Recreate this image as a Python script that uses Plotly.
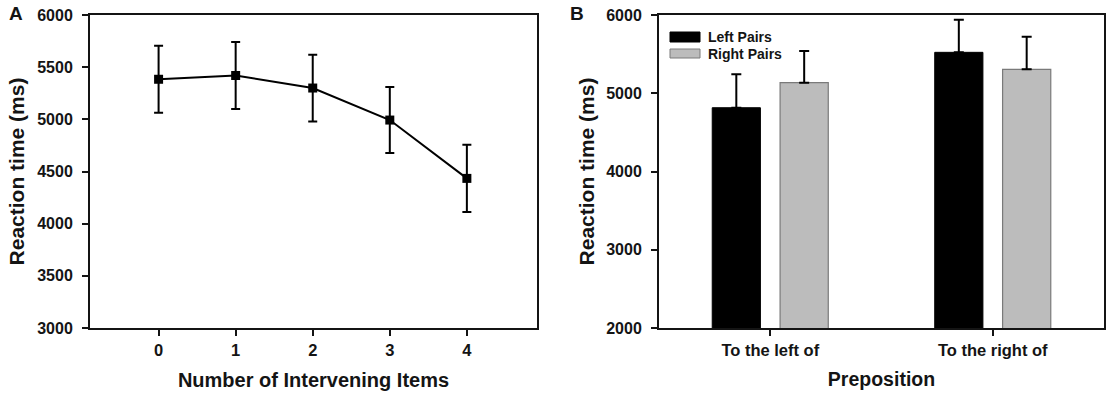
import plotly.graph_objects as go

# Panel A data
n_items = [0, 1, 2, 3, 4]
rt_a = [5384, 5420, 5300, 4993, 4434]
err_a = [322, 322, 320, 316, 322]
yticks_a = [3000, 3500, 4000, 4500, 5000, 5500, 6000]

# Panel B data
prepositions = ["To the left of", "To the right of"]
left_pairs = [4815, 5523]
left_err = [427, 417]
right_pairs = [5135, 5306]
right_err = [405, 417]
yticks_b = [2000, 3000, 4000, 5000, 6000]

W, H = 1106, 396
FONT = "Liberation Sans"
INK = "#141414"

def px_x(v):
    return v / W

def px_y(v):
    return (H - v) / H

fig = go.Figure()

fig.add_trace(go.Scatter(
    x=n_items, y=rt_a, mode="lines+markers",
    line=dict(color="black", width=2),
    marker=dict(symbol="square", size=9, color="black"),
    error_y=dict(type="data", array=err_a, color="black", thickness=2, width=4.5),
    xaxis="x", yaxis="y", showlegend=False,
))

fig.add_trace(go.Bar(
    x=prepositions, y=left_pairs, name="Left Pairs",
    marker=dict(color="black", line=dict(color="black", width=1)),
    error_y=dict(type="data", symmetric=False, array=left_err, arrayminus=[0, 0],
                 color="black", thickness=2, width=5),
    xaxis="x2", yaxis="y2", showlegend=False,
))
fig.add_trace(go.Bar(
    x=prepositions, y=right_pairs, name="Right Pairs",
    marker=dict(color="#bcbcbc", line=dict(color="#7a7a7a", width=1.2)),
    error_y=dict(type="data", symmetric=False, array=right_err, arrayminus=[0, 0],
                 color="black", thickness=2, width=5),
    xaxis="x2", yaxis="y2", showlegend=False,
))

ydom = [px_y(328), px_y(15)]
axis_common = dict(
    showline=True, linecolor=INK, linewidth=2, mirror=True,
    ticks="outside", ticklen=6, tickwidth=2, tickcolor=INK,
    showgrid=False, zeroline=False, automargin=False,
)
ytick_font = dict(family=FONT, size=16, color=INK)
xtick_font = dict(family=FONT, size=16.5, color=INK)

fig.update_layout(
    width=W, height=H,
    margin=dict(l=0, r=0, t=0, b=0, autoexpand=False),
    paper_bgcolor="white", plot_bgcolor="white",
    barmode="group", bargap=0.39, bargroupgap=0.29,
    font=dict(family=FONT, color=INK),
    xaxis=dict(domain=[px_x(90), px_x(537)], range=[-0.89, 4.91],
               tickvals=n_items, ticktext=[f"<b>{v}</b>" for v in n_items],
               tickfont=xtick_font,
               title=dict(text="<b>Number of Intervening Items</b>",
                          font=dict(family=FONT, size=20), standoff=15),
               anchor="y", **axis_common),
    yaxis=dict(domain=ydom, range=[3000, 6000], tickvals=yticks_a,
               ticktext=[f"<b>{v}</b>" for v in yticks_a],
               tickfont=ytick_font,
               title=dict(text="<b>Reaction time (ms)</b>",
                          font=dict(family=FONT, size=21), standoff=7),
               ticklabelstandoff=6, anchor="x", **axis_common),
    xaxis2=dict(domain=[px_x(659), px_x(1104)], range=[-0.5, 1.5],
                type="category",
                tickvals=prepositions,
                ticktext=[f"<b>{p}</b>" for p in prepositions],
                tickfont=xtick_font,
                title=dict(text="<b>Preposition</b>",
                           font=dict(family=FONT, size=19.5), standoff=15),
                anchor="y2", **axis_common),
    yaxis2=dict(domain=ydom, range=[2000, 6000], tickvals=yticks_b,
                ticktext=[f"<b>{v}</b>" for v in yticks_b],
                tickfont=ytick_font,
                title=dict(text="<b>Reaction time (ms)</b>",
                           font=dict(family=FONT, size=21), standoff=6),
                ticklabelstandoff=6, anchor="x2", **axis_common),
)

# Custom legend for panel B
fig.add_shape(type="rect", xref="paper", yref="paper",
              x0=px_x(670), x1=px_x(700), y0=px_y(42), y1=px_y(32),
              fillcolor="black", line=dict(color="black", width=1))
fig.add_shape(type="rect", xref="paper", yref="paper",
              x0=px_x(670), x1=px_x(700), y0=px_y(58), y1=px_y(49),
              fillcolor="#bcbcbc", line=dict(color="#7a7a7a", width=1))
fig.add_annotation(x=px_x(706), y=px_y(37), xref="paper", yref="paper",
                   text="<b>Left Pairs</b>", showarrow=False,
                   xanchor="left", yanchor="middle",
                   font=dict(family=FONT, size=14, color=INK))
fig.add_annotation(x=px_x(706), y=px_y(54), xref="paper", yref="paper",
                   text="<b>Right Pairs</b>", showarrow=False,
                   xanchor="left", yanchor="middle",
                   font=dict(family=FONT, size=14, color=INK))

# Panel labels
fig.add_annotation(x=px_x(16), y=px_y(13), xref="paper", yref="paper",
                   text="<b>A</b>", showarrow=False,
                   xanchor="center", yanchor="middle",
                   font=dict(family=FONT, size=19, color=INK))
fig.add_annotation(x=px_x(577), y=px_y(13), xref="paper", yref="paper",
                   text="<b>B</b>", showarrow=False,
                   xanchor="center", yanchor="middle",
                   font=dict(family=FONT, size=19, color=INK))

fig.write_html("out.html", config={"displayModeBar": False},
               post_script="document.body.style.margin='0';document.body.style.padding='0';")
